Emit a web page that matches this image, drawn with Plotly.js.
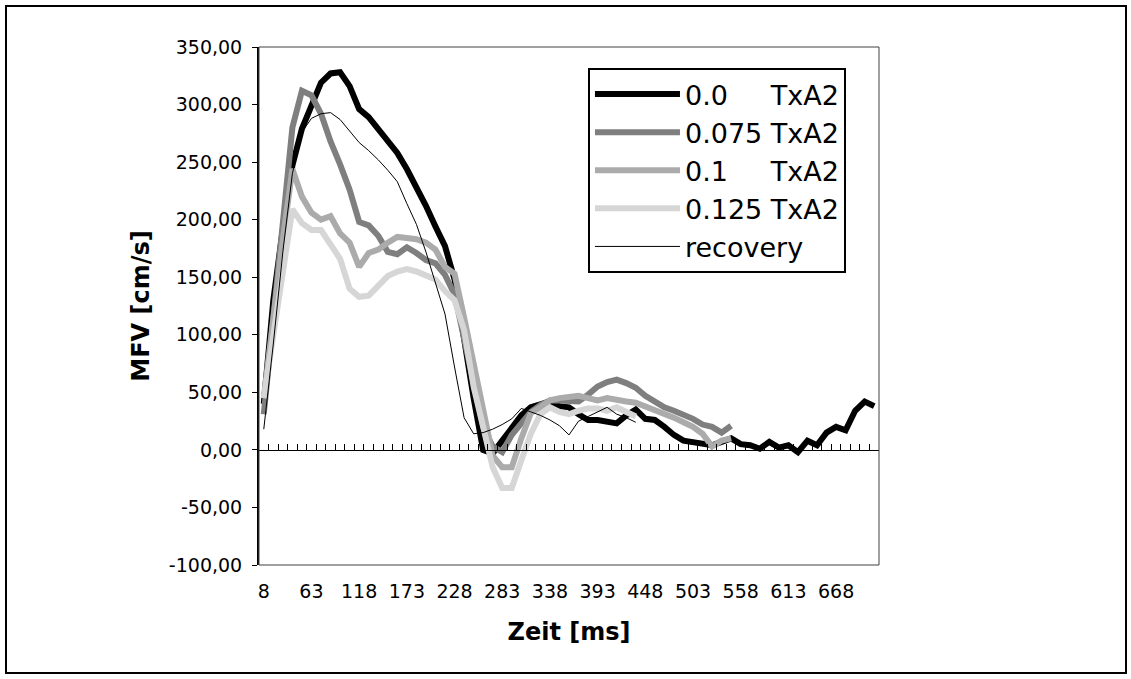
<!DOCTYPE html>
<html><head><meta charset="utf-8">
<script src="https://cdn.plot.ly/plotly-3.0.1.min.js"></script>
<style>
html,body{margin:0;padding:0;background:#fff;}
#wrap{position:relative;width:1131px;height:679px;}
#chart{width:1131px;height:679px;}
#frame{position:absolute;left:5px;top:5px;width:1122px;height:669px;border:2px solid #000;box-sizing:border-box;pointer-events:none;}
</style>
</head><body><div id="wrap"><div id="chart"></div><div id="frame"></div></div>
<script>
// time categories [ms]
const zeit = [8,19,30,41,52,63,74,85,96,107,118,129,140,151,162,173,184,195,206,217,228,239,250,261,272,283,294,305,316,327,338,349,360,371,382,393,404,415,426,437,448,459,470,481,492,503,514,525,536,547,558,569,580,591,602,613,624,635,646,657,668,679,690,701,712];
const xTickVals = [8,63,118,173,228,283,338,393,448,503,558,613,668];
const xTickText = ["8","63","118","173","228","283","338","393","448","503","558","613","668"];
const yTickVals = [-100,-50,0,50,100,150,200,250,300,350];
const yTickText = ["-100,00","-50,00","0,00","50,00","100,00","150,00","200,00","250,00","300,00","350,00"];

const txa_000 = [40,130,192,247,279,299,319,327,328,316,296,289,278,267,258,244,229,212,194,177,148,95,45,0,-3,8,20,30,37,40,42,38,37,31,26,26,24,23,30,35,27,26,20,13,8,7,5,4,7,10,5,4,1,7,2,4,-2,8,4,15,20,17,34,42,38];
const txa_075 = [31,113,206,280,312,308,292,268,248,226,198,195,186,172,170,176,171,165,162,152,135,95,55,20,3,-2,13,23,33,39,43,43,42,42,48,55,59,61,58,54,47,42,37,34,31,27,22,20,15,21];
const txa_100 = [45,119,183,244,220,206,200,203,188,180,159,171,174,180,185,184,183,180,174,159,153,115,75,30,-5,-15,-15,10,32,37,43,45,46,47,45,43,45,43,42,41,38,35,32,28,24,20,14,3,8,10];
const txa_125 = [45,101,156,209,197,191,191,178,166,140,133,134,142,151,155,157,155,152,148,138,130,104,55,20,-15,-33,-33,-9,14,31,37,33,31,34,36,36,34,37,33,29];
const recovery = [18,92,172,240,276,288,292,293,287,277,267,260,252,243,233,214,196,172,146,118,72,28,14,15,18,22,27,36,33,30,26,21,13,25,29,33,37,31,28,24];

const names = ["0.0\u00a0\u00a0\u00a0\u00a0\u00a0TxA2","0.075 TxA2","0.1\u00a0\u00a0\u00a0\u00a0\u00a0TxA2","0.125 TxA2","recovery"];

const FONT = '"DejaVu Sans", Arial, sans-serif';

const traces = [
  {x: zeit, y: txa_000, name: names[0], line:{color:'#000000', width:6}},
  {x: zeit, y: txa_075, name: names[1], line:{color:'#7f7f7f', width:6}},
  {x: zeit, y: txa_100, name: names[2], line:{color:'#ababab', width:6}},
  {x: zeit, y: txa_125, name: names[3], line:{color:'#d6d6d6', width:6}},
  {x: zeit, y: recovery, name: names[4], line:{color:'#000000', width:1}}
].map(t => Object.assign({type:'scatter', mode:'lines', hoverinfo:'skip'}, t));

// carrier for the category tick axis on the zero line
traces.push({type:'scatter', mode:'lines', x: zeit, y: zeit.map(() => null), xaxis:'x2', showlegend:false, hoverinfo:'skip'});

const layout = {
  width: 1131, height: 679,
  margin: {l: 259, r: 252, t: 47, b: 114, pad: 0},
  paper_bgcolor: '#ffffff', plot_bgcolor: '#ffffff',
  font: {family: FONT, color: '#000', size: 19},
  showlegend: true,
  legend: {x: 0.5306, y: 0.9595, xanchor: 'left', yanchor: 'top',
    bgcolor: '#ffffff', bordercolor: '#000', borderwidth: 2,
    font: {family: FONT, size: 27, color: '#000'}, itemwidth: 85, tracegroupgap: 0},
  xaxis: {range: [2.5, 717.5], tickmode: 'array', tickvals: xTickVals, ticktext: xTickText,
    ticks: '', showline: false, showgrid: false, zeroline: false,
    tickfont: {size: 19}, ticklabelstandoff: 13,
    title: {text: '<b>Zeit [ms]</b>', font: {size: 24}, standoff: 22}, automargin: false},
  xaxis2: {overlaying: 'x', anchor: 'free', position: 100/450, side: 'bottom',
    range: [2.5, 717.5], tickmode: 'linear', tick0: 13.5, dtick: 11,
    ticks: 'inside', ticklen: 6, tickwidth: 1, tickcolor: '#000',
    showticklabels: false, showline: true, linecolor: '#000', linewidth: 1,
    showgrid: false, zeroline: false},
  yaxis: {range: [-100, 350], tickmode: 'array', tickvals: yTickVals, ticktext: yTickText,
    ticks: 'outside', ticklen: 5, tickwidth: 1, tickcolor: '#000',
    showline: true, linecolor: '#000', linewidth: 2, showgrid: false, zeroline: false,
    tickfont: {size: 19}, ticklabelstandoff: 6,
    title: {text: '<b>MFV [cm/s]</b>', font: {size: 24}, standoff: 12}, automargin: false},
  shapes: [{type: 'rect', xref: 'paper', yref: 'paper', x0: 0, x1: 1, y0: 0, y1: 1,
    line: {color: '#404040', width: 1}, fillcolor: 'rgba(0,0,0,0)', layer: 'above'}]
};

Plotly.newPlot('chart', traces, layout, {displayModeBar: false, staticPlot: true});
</script>
</body></html>
